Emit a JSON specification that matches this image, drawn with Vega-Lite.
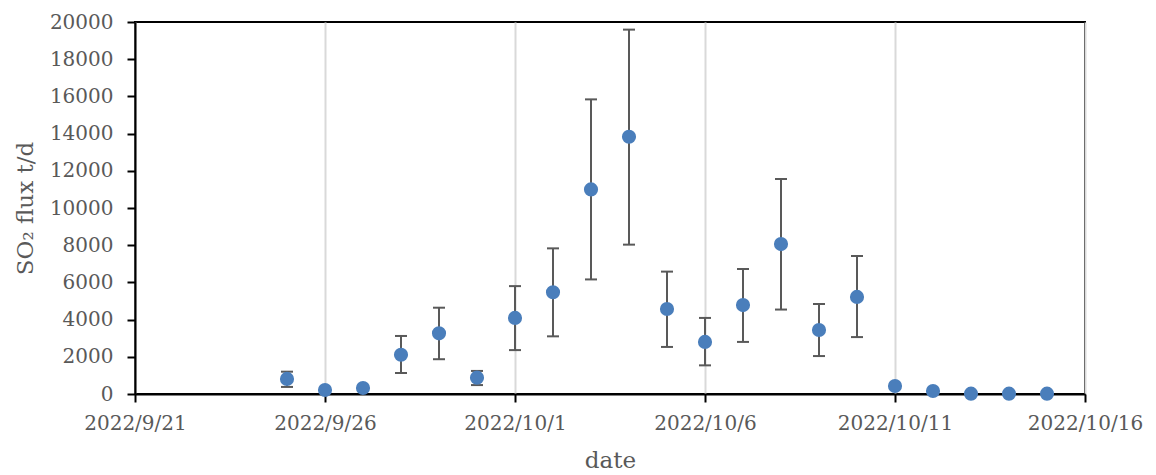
{
  "$schema": "https://vega.github.io/schema/vega-lite/v6.json",
  "autosize": "none",
  "width": 950,
  "height": 372,
  "padding": {"left": 135, "top": 22, "right": 71, "bottom": 81},
  "background": "white",
  "config": {
    "view": {"stroke": "black", "strokeWidth": 2},
    "font": "DejaVu Serif",
    "axis": {
      "labelFont": "DejaVu Serif",
      "titleFont": "DejaVu Serif",
      "labelColor": "#595959",
      "titleColor": "#595959",
      "labelFontSize": 20,
      "titleFontSize": 23,
      "titleFontWeight": "normal",
      "domainColor": "black",
      "domainWidth": 2,
      "tickColor": "black",
      "tickWidth": 2,
      "tickSize": 8,
      "labelOverlap": false
    },
    "axisY": {"tickCount": 20, "labelOverlap": false}
  },
  "data": {
    "values": [
      {"date": "2022-09-25", "flux": 810, "lo": 380, "hi": 1200},
      {"date": "2022-09-26", "flux": 215, "lo": null, "hi": null},
      {"date": "2022-09-27", "flux": 320, "lo": null, "hi": null},
      {"date": "2022-09-28", "flux": 2110, "lo": 1130, "hi": 3120},
      {"date": "2022-09-29", "flux": 3260, "lo": 1870, "hi": 4640},
      {"date": "2022-09-30", "flux": 880, "lo": 480, "hi": 1240},
      {"date": "2022-10-01", "flux": 4090, "lo": 2360, "hi": 5800},
      {"date": "2022-10-02", "flux": 5470, "lo": 3100, "hi": 7830},
      {"date": "2022-10-03", "flux": 11000, "lo": 6160, "hi": 15840},
      {"date": "2022-10-04", "flux": 13830, "lo": 8030, "hi": 19590},
      {"date": "2022-10-05", "flux": 4570, "lo": 2530, "hi": 6580},
      {"date": "2022-10-06", "flux": 2800, "lo": 1540, "hi": 4090},
      {"date": "2022-10-07", "flux": 4780, "lo": 2800, "hi": 6720},
      {"date": "2022-10-08", "flux": 8060, "lo": 4540, "hi": 11560},
      {"date": "2022-10-09", "flux": 3440, "lo": 2040, "hi": 4840},
      {"date": "2022-10-10", "flux": 5220, "lo": 3060, "hi": 7420},
      {"date": "2022-10-11", "flux": 430, "lo": null, "hi": null},
      {"date": "2022-10-12", "flux": 160, "lo": null, "hi": null},
      {"date": "2022-10-13", "flux": 20, "lo": null, "hi": null},
      {"date": "2022-10-14", "flux": 20, "lo": null, "hi": null},
      {"date": "2022-10-15", "flux": 20, "lo": null, "hi": null}
    ]
  },
  "encoding": {
    "x": {
      "field": "date",
      "type": "temporal",
      "scale": {"type": "utc", "domain": ["2022-09-21", "2022-10-16"]},
      "axis": {
        "title": "date",
        "labelExpr": "utcFormat(datum.value, '%Y/%-m/%-d')",
        "values": ["2022-09-21", "2022-09-26", "2022-10-01", "2022-10-06", "2022-10-11", "2022-10-16"],
        "grid": true,
        "gridColor": "#d9d9d9",
        "gridWidth": 2,
        "labelPadding": 11,
        "titlePadding": 16,
        "labelFlush": false,
        "labelOverlap": false
      }
    }
  },
  "layer": [
    {
      "transform": [{"filter": "datum.hi != null"}],
      "mark": {"type": "rule", "color": "#595959", "strokeWidth": 2},
      "encoding": {
        "y": {
          "field": "lo",
          "type": "quantitative",
          "scale": {"domain": [0, 20000], "nice": false},
          "axis": {
            "title": "SO₂ flux t/d",
            "values": [0, 2000, 4000, 6000, 8000, 10000, 12000, 14000, 16000, 18000, 20000],
            "tickCount": 20,
            "format": "d",
            "grid": false,
            "labelOverlap": false,
            "labelPadding": 14,
            "titlePadding": 12
          }
        },
        "y2": {"field": "hi"}
      }
    },
    {
      "transform": [{"filter": "datum.hi != null"}],
      "mark": {"type": "tick", "orient": "horizontal", "color": "#595959", "size": 12, "thickness": 2, "opacity": 1},
      "encoding": {
        "y": {"field": "lo", "type": "quantitative"}
      }
    },
    {
      "transform": [{"filter": "datum.hi != null"}],
      "mark": {"type": "tick", "orient": "horizontal", "color": "#595959", "size": 12, "thickness": 2, "opacity": 1},
      "encoding": {
        "y": {"field": "hi", "type": "quantitative"}
      }
    },
    {
      "mark": {"type": "circle", "size": 200, "color": "#4a7ebb", "opacity": 1},
      "encoding": {
        "y": {"field": "flux", "type": "quantitative"}
      }
    }
  ]
}
